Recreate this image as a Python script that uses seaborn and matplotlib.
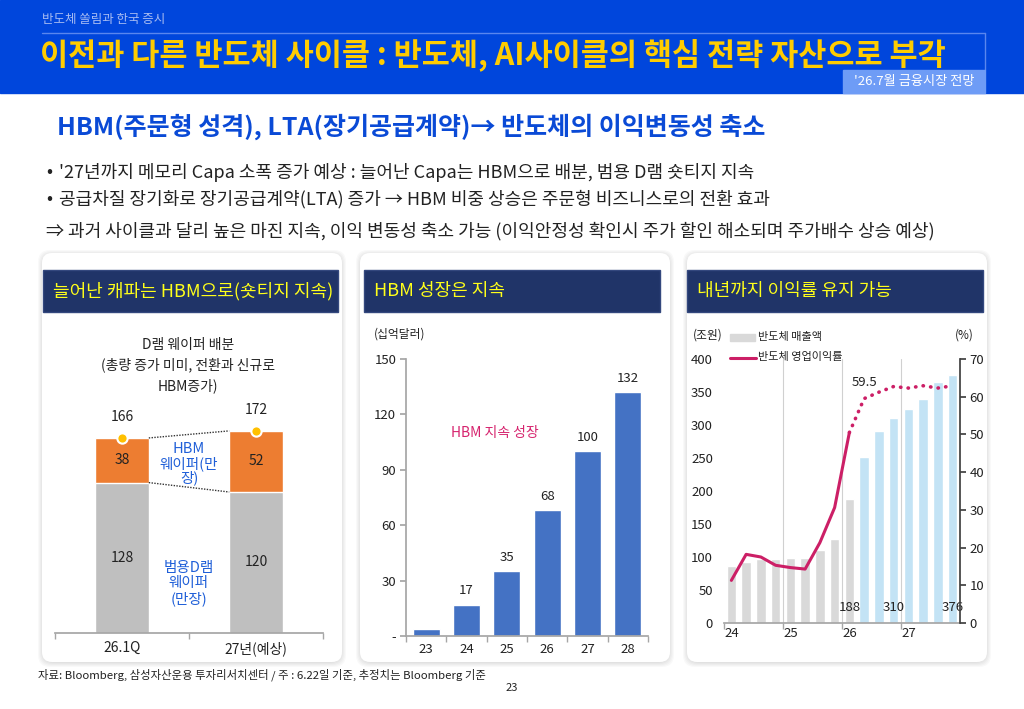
#반도체 쏠림과 한국 증시 - slide 23 recreation

#Import modules
import matplotlib
matplotlib.use('Agg')
import matplotlib.pyplot as plt
from matplotlib.patches import Rectangle, FancyBboxPatch
import numpy as np
import pandas as pd
import seaborn as sns

#Chart data
wafer_periods = ['26.1Q', '27년(예상)']
wafer_general = [128, 120]   # 범용D램 웨이퍼 (만장)
wafer_hbm = [38, 52]         # HBM 웨이퍼 (만장)

hbm_years = ['23', '24', '25', '26', '27', '28']
hbm_market = [4, 17, 35, 68, 100, 132]   # 십억달러

quarters = ['24Q1', '24Q2', '24Q3', '24Q4', '25Q1', '25Q2', '25Q3', '25Q4',
            '26Q1', '26Q2', '26Q3', '26Q4', '27Q1', '27Q2', '27Q3', '27Q4']
semi_sales = [86, 93, 97, 97, 98, 98, 111, 128, 188, 252, 291, 310, 325, 339, 365, 376]
semi_margin = [11.3, 18.2, 17.5, 15.3, 14.7, 14.3, 21.3, 30.6, 50.5,
               59.5, 61.2, 62.7, 62.3, 62.9, 62.3, 62.9]
n_actual = 9
year_labels = ['24', '25', '26', '27']
sales_labels = {8: '188', 11: '310', 15: '376'}

#Style
sns.set_theme(style='white')
plt.rcParams['font.family'] = ['Noto Sans CJK KR', 'DejaVu Sans']
plt.rcParams['axes.unicode_minus'] = False

W, H = 1024, 709
fig = plt.figure(figsize=(W / 100, H / 100), dpi=100)
fig.patch.set_facecolor('white')

bg = fig.add_axes([0, 0, 1, 1], zorder=0)
bg.set_xlim(0, W)
bg.set_ylim(H, 0)
bg.axis('off')


def px_axes(x0, y0, x1, y1):
    return fig.add_axes([x0 / W, 1 - y1 / H, (x1 - x0) / W, (y1 - y0) / H], zorder=2)


#Banner
bg.add_patch(Rectangle((0, 0), W, 93, color='#0046dc', zorder=1))
bg.plot([42, 985], [33, 33], color='#5a86ee', lw=1, zorder=2)
bg.plot([985, 985], [33, 70], color='#5a86ee', lw=1, zorder=2)
bg.text(42, 20, '반도체 쏠림과 한국 증시', fontsize=9, color='#a8bcf2', va='center', zorder=3)
bg.text(40, 56, '이전과 다른 반도체 사이클 : 반도체, AI사이클의 핵심 전략 자산으로 부각',
        fontsize=22, fontweight='bold', color='#ffcc00', va='center', zorder=3)
bg.add_patch(Rectangle((843, 70), 142, 23, color='#6e9cf6', zorder=2))
bg.text(914, 81.5, "'26.7월 금융시장 전망", fontsize=9.5, color='white',
        ha='center', va='center', zorder=3)

#Headline and bullets
bg.text(57, 127, 'HBM(주문형 성격), LTA(장기공급계약)→ 반도체의 이익변동성 축소',
        fontsize=18, fontweight='bold', color='#0a4ad6', va='center')
bullets = ["'27년까지 메모리 Capa 소폭 증가 예상 : 늘어난 Capa는 HBM으로 배분, 범용 D램 숏티지 지속",
           '공급차질 장기화로 장기공급계약(LTA) 증가 → HBM 비중 상승은 주문형 비즈니스로의 전환 효과']
for yy, s in zip([172, 199], bullets):
    bg.text(46, yy, '•', fontsize=13, color='#222222', va='center')
    bg.text(59, yy, s, fontsize=13, color='#222222', va='center')
bg.text(46, 231, '⇒ 과거 사이클과 달리 높은 마진 지속, 이익 변동성 축소 가능 (이익안정성 확인시 주가 할인 해소되며 주가배수 상승 예상)',
        fontsize=13, color='#222222', va='center')

#Cards with soft shadow and navy headers
cards = [(42, 342, 43, 338, '늘어난 캐파는 HBM으로(숏티지 지속)'),
         (360, 670, 364, 660, 'HBM 성장은 지속'),
         (687, 987, 687, 983, '내년까지 이익률 유지 가능')]
for cx0, cx1, hx0, hx1, title in cards:
    for i in range(5, 0, -1):
        bg.add_patch(FancyBboxPatch((cx0 - i + 1, 253 - i + 2), cx1 - cx0 + 2 * i - 2, 409 + 2 * i - 2,
                                    boxstyle='round,pad=0,rounding_size=12',
                                    fc='black', ec='none', alpha=0.025, zorder=1))
    bg.add_patch(FancyBboxPatch((cx0, 253), cx1 - cx0, 409, boxstyle='round,pad=0,rounding_size=10',
                                fc='white', ec='none', zorder=2))
    bg.add_patch(Rectangle((hx0, 270), hx1 - hx0, 42, fc='#203468', ec='#34487e', lw=1, zorder=3))
    bg.text(hx0 + 10, 291, title, fontsize=13, color='#ffff1a', va='center', zorder=4)

#Footer
bg.text(38, 675, '자료: Bloomberg, 삼성자산운용 투자리서치센터 / 주 : 6.22일 기준, 추정치는 Bloomberg 기준',
        fontsize=8.2, color='#222222', va='center')
bg.text(512, 688, '23', fontsize=8, color='#222222', ha='center', va='center')

#Chart 1: D램 웨이퍼 배분 (stacked)
for yy, s in zip([345, 365, 386], ['D램 웨이퍼 배분', '(총량 증가 미미, 전환과 신규로', 'HBM증가)']):
    bg.text(188, yy, s, fontsize=10, color='#222222', ha='center', va='center', zorder=5)

ax1 = px_axes(55, 398, 323, 633)
df1 = pd.DataFrame({'period': wafer_periods, 'general': wafer_general, 'hbm': wafer_hbm})
df1['total'] = df1['general'] + df1['hbm']
sns.barplot(data=df1, x='period', y='total', color='#ed7d31', width=0.4, saturation=1,
            errorbar=None, ax=ax1)
sns.barplot(data=df1, x='period', y='general', color='#bfbfbf', width=0.4, saturation=1,
            errorbar=None, ax=ax1)
ax1.set_ylim(0, 200)
ax1.set_xlim(-0.5, 1.5)
ax1.set_facecolor('none')
ax1.plot([0.2, 0.8], df1['total'], ls=(0, (1, 1)), color='#333333', lw=1)
ax1.plot([0.2, 0.8], df1['general'], ls=(0, (1, 1)), color='#333333', lw=1)
ax1.scatter([0, 1], df1['total'], s=55, color='#ffc000', edgecolor='white', linewidth=1.5,
            zorder=5, clip_on=False)
for i, row in df1.iterrows():
    ax1.text(i, row['total'] + 18, f"{row['total']}", ha='center', va='center', fontsize=10, color='#222222')
    ax1.text(i, row['general'] + row['hbm'] / 2, f"{row['hbm']}", ha='center', va='center', fontsize=10, color='#222222')
    ax1.text(i, row['general'] / 2, f"{row['general']}", ha='center', va='center', fontsize=10, color='#222222')
ax1.text(0.5, 144, 'HBM\n웨이퍼(만\n장)', ha='center', va='center', fontsize=10.5,
         color='#1f5fd8', linespacing=1.0)
ax1.text(0.5, 42, '범용D램\n웨이퍼\n(만장)', ha='center', va='center', fontsize=10.5,
         color='#1f5fd8', linespacing=1.1)
sns.despine(ax=ax1, left=True)
ax1.spines['bottom'].set_color('#a6a6a6')
ax1.set_yticks([])
ax1.set_xticks([0, 1], wafer_periods)
ax1.set_xticks([-0.5, 0.5, 1.5], minor=True)
ax1.tick_params(axis='x', which='major', length=0, pad=6, labelsize=10, labelcolor='#222222')
ax1.tick_params(axis='x', which='minor', bottom=True, length=4, color='#a6a6a6', direction='out')
ax1.set_xlabel('')
ax1.set_ylabel('')

#Chart 2: HBM 시장
bg.text(400, 334, '(십억달러)', fontsize=8.5, color='#222222', ha='center', va='center', zorder=5)
ax2 = px_axes(406, 359, 648, 636)
sns.barplot(x=hbm_years, y=hbm_market, color='#4472c4', width=0.67, saturation=1,
            errorbar=None, ax=ax2)
ax2.set_ylim(0, 150)
ax2.set_xlim(-0.5, 5.5)
ax2.set_facecolor('none')
for i, v in enumerate(hbm_market):
    if v >= 10:
        ax2.text(i, v + 7.5, f'{v}', ha='center', va='center', fontsize=9.5, color='#222222')
ax2.text(1.7, 110, 'HBM 지속 성장', ha='center', va='center', fontsize=10, color='#d6246e')
sns.despine(ax=ax2)
for sp in ['left', 'bottom']:
    ax2.spines[sp].set_color('#a6a6a6')
ax2.set_yticks([0, 30, 60, 90, 120, 150], ['-', '30', '60', '90', '120', '150'])
ax2.tick_params(axis='y', left=True, length=4, color='#a6a6a6', pad=3, labelsize=9.5, labelcolor='#222222')
ax2.set_xticks(range(len(hbm_years)), hbm_years)
ax2.set_xticks(np.arange(-0.5, 6, 1), minor=True)
ax2.tick_params(axis='x', which='major', length=0, pad=5, labelsize=9.5, labelcolor='#222222')
ax2.tick_params(axis='x', which='minor', bottom=True, length=4, color='#a6a6a6', direction='out')
ax2.set_xlabel('')
ax2.set_ylabel('')

#Chart 3: 반도체 매출액 / 영업이익률
bg.text(708, 335, '(조원)', fontsize=8.5, color='#222222', ha='center', va='center', zorder=5)
bg.text(964, 335, '(%)', fontsize=8.5, color='#222222', ha='center', va='center', zorder=5)
bg.add_patch(Rectangle((730, 334), 25, 7, color='#d9d9d9', zorder=5))
bg.text(758, 337, '반도체 매출액', fontsize=8, color='#222222', va='center', zorder=5)
bg.plot([730, 756], [358, 358], color='#cc1f66', lw=2.2, zorder=5)
bg.text(758, 357, '반도체 영업이익률', fontsize=8, color='#222222', va='center', zorder=5)

ax3 = px_axes(724, 359, 960, 623)
df3 = pd.DataFrame({'quarter': quarters, 'sales': semi_sales,
                    'kind': ['실적'] * n_actual + ['전망'] * (len(quarters) - n_actual)})
sns.barplot(data=df3, x='quarter', y='sales', hue='kind',
            palette={'실적': '#d9d9d9', '전망': '#c3e3f5'}, dodge=False, width=0.66,
            saturation=1, errorbar=None, legend=False, ax=ax3)
ax3.set_ylim(0, 400)
ax3.set_xlim(-0.5, len(quarters) - 0.5)
ax3.set_facecolor('none')
for xg in [3.5, 7.5, 11.5]:
    ax3.axvline(xg, color='#d0d0d0', lw=0.8, zorder=0)
for i, s in sales_labels.items():
    ax3.text(i, 23, s, ha='center', va='center', fontsize=9.5, color='#222222', zorder=6)
ax3.spines['left'].set_visible(False)
ax3.spines['top'].set_visible(False)
ax3.spines['right'].set_visible(False)
ax3.spines['bottom'].set_color('#a6a6a6')
ax3.set_yticks(range(0, 401, 50))
ax3.tick_params(axis='y', left=False, length=0, pad=8, labelsize=9.5, labelcolor='#222222')
ax3.set_xticks([0, 4, 8, 12], year_labels)
ax3.set_xticks([-0.5, 3.5, 7.5, 11.5], minor=True)
ax3.tick_params(axis='x', which='major', length=0, pad=3, labelsize=9.5, labelcolor='#222222')
ax3.tick_params(axis='x', which='minor', bottom=True, length=4, color='#a6a6a6', direction='out')
ax3.set_xlabel('')
ax3.set_ylabel('')

ax3r = ax3.twinx()
ax3r.set_zorder(3)
ax3r.set_facecolor('none')
pos = np.arange(len(quarters))
sns.lineplot(x=pos[:n_actual], y=semi_margin[:n_actual], color='#cc1f66', lw=2.2, ax=ax3r)
sns.lineplot(x=pos[n_actual - 1:], y=semi_margin[n_actual - 1:], color='#cc1f66', lw=2.6,
             ls=(0, (0.1, 2.0)), dash_capstyle='round', ax=ax3r)
ax3r.text(n_actual, 63.8, f'{semi_margin[n_actual]}', ha='center', va='center', fontsize=9.5, color='#222222')
ax3r.set_ylim(0, 70)
ax3r.set_xlim(-0.5, len(quarters) - 0.5)
for sp in ['left', 'top', 'bottom']:
    ax3r.spines[sp].set_visible(False)
ax3r.spines['right'].set_visible(True)
ax3r.spines['right'].set_color('#404040')
ax3r.set_yticks(range(0, 71, 10))
ax3r.tick_params(axis='y', right=True, length=4, color='#404040', direction='out', pad=3,
                 labelsize=9.5, labelcolor='#222222')
ax3r.set_xlabel('')
ax3r.set_ylabel('')

fig.savefig('out.png', dpi=100, facecolor='white')
